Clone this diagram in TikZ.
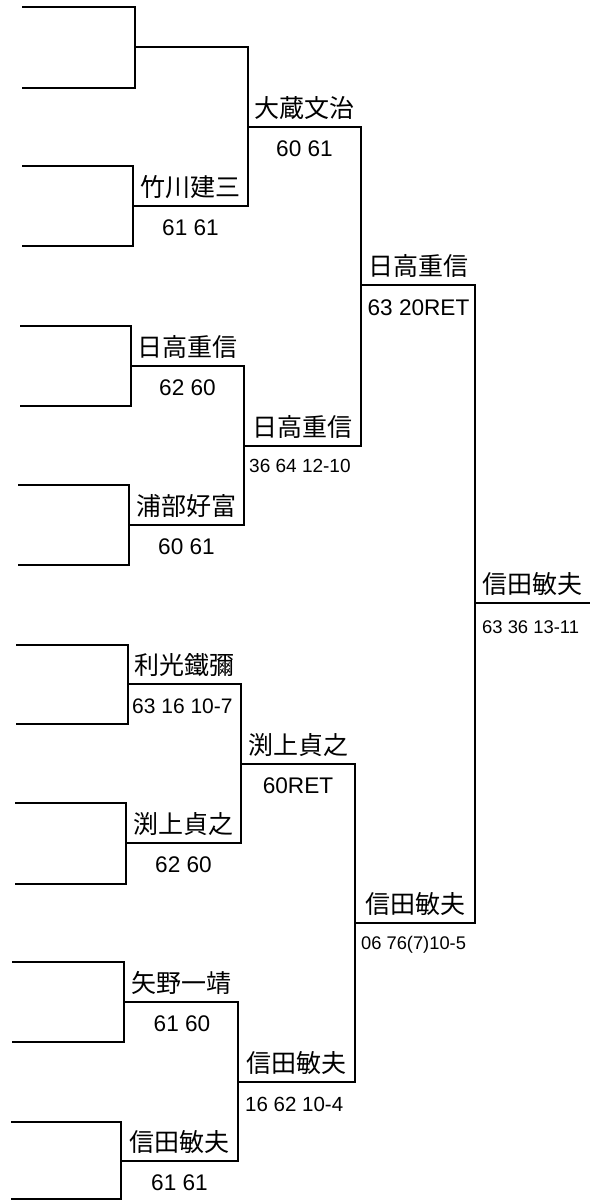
\documentclass[tikz,border=0pt]{standalone}
\usepackage{fontspec}
\newfontfamily\cjkjp{Noto Sans CJK JP}
\newfontfamily\numf{Liberation Sans}
\tikzset{
  br/.style={line width=2.7pt, line join=miter, line cap=rect},
  nm/.style={font=\cjkjp\fontsize{25pt}{25pt}\selectfont, anchor=base, inner sep=0pt},
  sc/.style={font=\numf\fontsize{22.6pt}{23pt}\selectfont, anchor=base, inner sep=0pt},
  ssc/.style={font=\numf\fontsize{#1pt}{#1pt}\selectfont, anchor=base west, inner sep=0pt}
}
\begin{document}
\begin{tikzpicture}[x=1pt,y=-1pt]
\useasboundingbox (0,0) rectangle (602,1202);
\fill[white] (0,0) rectangle (602,1202);
% ---- round 1 pairs: top-left, top-corner, bottom-corner, bottom-left, mid
\coordinate (a1) at (23,7);    \coordinate (b1) at (135,7);    \coordinate (c1) at (135,88);   \coordinate (d1) at (23,88);   \coordinate (m1) at (135,47);
\coordinate (a2) at (23,166);  \coordinate (b2) at (133,166);  \coordinate (c2) at (133,246);  \coordinate (d2) at (23,246);  \coordinate (m2) at (133,206);
\coordinate (a3) at (21,326);  \coordinate (b3) at (131,326);  \coordinate (c3) at (131,406);  \coordinate (d3) at (21,406);  \coordinate (m3) at (131,366);
\coordinate (a4) at (19,485);  \coordinate (b4) at (129,485);  \coordinate (c4) at (129,565);  \coordinate (d4) at (19,565);  \coordinate (m4) at (129,525);
\coordinate (a5) at (17,645);  \coordinate (b5) at (128,645);  \coordinate (c5) at (128,724);  \coordinate (d5) at (17,724);  \coordinate (m5) at (128,684);
\coordinate (a6) at (16,803);  \coordinate (b6) at (126,803);  \coordinate (c6) at (126,884);  \coordinate (d6) at (16,884);  \coordinate (m6) at (126,843);
\coordinate (a7) at (13,962);  \coordinate (b7) at (124,962);  \coordinate (c7) at (124,1042); \coordinate (d7) at (13,1042); \coordinate (m7) at (124,1002);
\coordinate (a8) at (12,1122); \coordinate (b8) at (121,1122); \coordinate (c8) at (121,1199); \coordinate (d8) at (12,1199); \coordinate (m8) at (121,1161);
\foreach \i in {1,...,8}{\draw[br] (a\i) -- (b\i) -- (c\i) -- (d\i);}
% ---- round 2
\coordinate (q1) at (248,47);   \coordinate (q2) at (248,206);  \coordinate (w1) at (248,127);
\coordinate (q3) at (244,366);  \coordinate (q4) at (244,525);  \coordinate (w2) at (244,446);
\coordinate (q5) at (241,684);  \coordinate (q6) at (241,843);  \coordinate (w3) at (241,764);
\coordinate (q7) at (238,1002); \coordinate (q8) at (238,1161); \coordinate (w4) at (238,1082);
\draw[br] (m1) -- (q1) -- (q2) -- (m2);
\draw[br] (m3) -- (q3) -- (q4) -- (m4);
\draw[br] (m5) -- (q5) -- (q6) -- (m6);
\draw[br] (m7) -- (q7) -- (q8) -- (m8);
% ---- round 3
\coordinate (r1) at (361,127); \coordinate (r2) at (361,446);  \coordinate (v1) at (361,285);
\coordinate (r3) at (355,764); \coordinate (r4) at (355,1082); \coordinate (v2) at (355,923);
\draw[br] (w1) -- (r1) -- (r2) -- (w2);
\draw[br] (w3) -- (r3) -- (r4) -- (w4);
% ---- semifinal / final
\coordinate (t1) at (475,285); \coordinate (t2) at (475,923); \coordinate (fz) at (475,603); \coordinate (fe) at (589,603);
\draw[br] (v1) -- (t1) -- (t2) -- (v2);
\draw[br] (fz) -- (fe);
% ---- names
\node[nm] (n2)  at (190.5,196.5) {竹川建三};
\node[nm] (nw1) at (304.5,117.5) {大蔵文治};
\node[nm] (n3)  at (187.5,356.5) {日高重信};
\node[nm] (n4)  at (186.5,515.5) {浦部好富};
\node[nm] (nw2) at (302.5,436.5) {日高重信};
\node[nm] (nv1) at (418,275.5)   {日高重信};
\node[nm] (n5)  at (184.5,674.5) {利光鐵彌};
\node[nm] (n6)  at (183.5,833.5) {渕上貞之};
\node[nm] (nw3) at (298,754.5)   {渕上貞之};
\node[nm] (n7)  at (181,992.5)   {矢野一靖};
\node[nm] (n8)  at (179.5,1151.5){信田敏夫};
\node[nm] (nw4) at (296.5,1072.5){信田敏夫};
\node[nm] (nv2) at (415,913.5)   {信田敏夫};
\node[nm] (nf)  at (532,593.5)   {信田敏夫};
% ---- scores
\node[sc] (s2)  at (190.5,235)  {61 61};
\node[sc] (sw1) at (304.5,156)  {60 61};
\node[sc] (s3)  at (187.5,395)  {62 60};
\node[sc] (s4)  at (186.5,554)  {60 61};
\node[ssc=19] (sw2) at (249,472) {36 64 12-10};
\node[sc] (sv1) at (418.5,315)  {63 20RET};
\node[ssc=21] (s5) at (132,713) {63 16 10-7};
\node[sc] (s6)  at (183.5,872)  {62 60};
\node[sc] (sw3) at (298,793)    {60RET};
\node[sc] (s7)  at (182,1031)   {61 60};
\node[sc] (s8)  at (179.5,1190) {61 61};
\node[ssc=20.5] (sw4) at (245,1111) {16 62 10-4};
\node[ssc=18.3] (sv2) at (361,949)  {06 76(7)10-5};
\node[ssc=18.4] (sf)  at (482,633)  {63 36 13-11};
\end{tikzpicture}
\end{document}
